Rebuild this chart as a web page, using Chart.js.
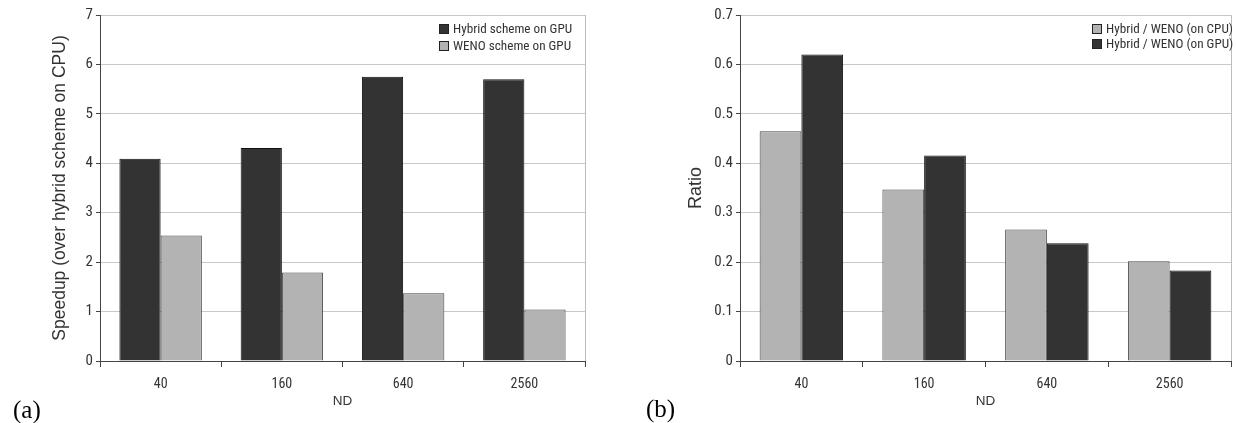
<!DOCTYPE html>
<html><head><meta charset="utf-8">
<script src="https://cdn.jsdelivr.net/npm/chart.js@4.4.1/dist/chart.umd.min.js"></script>
<style>
html,body{margin:0;padding:0;background:#fff;}
body{width:1236px;height:423px;position:relative;overflow:hidden;}
.wrap{position:absolute;top:0;height:423px;width:618px;}
#wa{left:0}
#wb{left:618px}
canvas{display:block}
.panel{position:absolute;font-family:"Liberation Serif","DejaVu Serif",serif;font-size:25px;color:#000;line-height:1;}
.legend{position:absolute;font-family:"Roboto Condensed","Liberation Sans",sans-serif;font-size:13.2px;color:#333;}
.legend .row{display:flex;align-items:center;white-space:nowrap;}
.legend .box{display:inline-block;width:8px;height:8px;border:1px solid #222;margin-right:4px;flex:none;}
</style>
</head>
<body>
<div class="wrap" id="wa"><canvas id="ca" width="618" height="423"></canvas></div>
<div class="wrap" id="wb"><canvas id="cb" width="618" height="423"></canvas></div>
<div class="legend" id="la" style="left:439px;top:20px;"></div>
<div class="legend" id="lb" style="left:1092px;top:21px;"></div>
<div class="panel" style="left:13px;top:397px;">(a)</div>
<div class="panel" style="left:646px;top:396px;">(b)</div>
<script>
// ---- data ----
const categories = ['40', '160', '640', '2560'];
const hybridGpu = [4.09, 4.31, 5.75, 5.70];
const wenoGpu = [2.54, 1.79, 1.37, 1.04];
const ratioCpu = [0.465, 0.347, 0.266, 0.202];
const ratioGpu = [0.620, 0.416, 0.238, 0.183];
const speedupTicks = ['0', '1', '2', '3', '4', '5', '6', '7'];
const ratioTicks = ['0', '0.1', '0.2', '0.3', '0.4', '0.5', '0.6', '0.7'];
const seriesA = ['Hybrid scheme on GPU', 'WENO scheme on GPU'];
const seriesB = ['Hybrid / WENO (on CPU)', 'Hybrid / WENO (on GPU)'];
const titleA = 'Speedup (over hybrid scheme on CPU)';
const titleB = 'Ratio';
const xTitle = 'ND';

const DARK = '#333333', LIGHT = '#b3b3b3';
const NARROW = '"Roboto Condensed", "Liberation Sans", sans-serif';
const SANS = '"Liberation Sans", Arial, sans-serif';

const rightEdge = {
  id: 'rightEdge',
  afterDatasetsDraw(chart) {
    const a = chart.chartArea, ctx = chart.ctx;
    ctx.save();
    ctx.strokeStyle = '#bdbdbd';
    ctx.lineWidth = 1;
    ctx.beginPath();
    ctx.moveTo(Math.round(a.right) + 0.5, a.top);
    ctx.lineTo(Math.round(a.right) + 0.5, a.bottom);
    ctx.stroke();
    ctx.restore();
  }
};

function makeChart(id, datasets, yMax, yStep, tickLabels, yTitle, yTitleSize, yTitlePad, leftW, padRight) {
  return new Chart(document.getElementById(id), {
    type: 'bar',
    data: { labels: categories, datasets },
    plugins: [rightEdge],
    options: {
      responsive: false,
      animation: false,
      devicePixelRatio: 1,
      layout: { padding: { left: 0, right: padRight, top: 15, bottom: 0 } },
      plugins: { legend: { display: false }, tooltip: { enabled: false } },
      datasets: { bar: { categoryPercentage: 0.68, barPercentage: 1.0 } },
      scales: {
        x: {
          afterFit(s) { s.height = 62; },
          grid: { display: true, drawOnChartArea: false, drawTicks: true, tickLength: 6, tickColor: '#444', offset: true },
          border: { display: true, color: '#444', width: 1 },
          ticks: { color: '#333', font: { family: NARROW, size: 14 }, padding: 9 },
          title: { display: true, text: xTitle, color: '#333', font: { family: SANS, size: 13.5 }, padding: { top: 0, bottom: 14 } }
        },
        y: {
          min: 0, max: yMax,
          afterFit(s) { s.width = leftW; },
          grid: { color: '#c8c8c8', lineWidth: 1, tickColor: '#444', tickLength: 4 },
          border: { display: true, color: '#444', width: 1 },
          ticks: { stepSize: yStep, color: '#333', font: { family: NARROW, size: 15 }, padding: 3,
                   callback: (v, i) => tickLabels[i] },
          title: { display: true, text: yTitle, color: '#333', font: { family: SANS, size: yTitleSize }, padding: { top: yTitlePad, bottom: 0 } }
        }
      }
    }
  });
}

makeChart('ca', [
  { label: seriesA[0], data: hybridGpu, backgroundColor: DARK, borderColor: '#111', borderWidth: 1 },
  { label: seriesA[1], data: wenoGpu, backgroundColor: LIGHT, borderColor: '#444', borderWidth: 1 }
], 7, 1, speedupTicks, titleA, 17.5, 50, 100, 33);

makeChart('cb', [
  { label: seriesB[0], data: ratioCpu, backgroundColor: LIGHT, borderColor: '#444', borderWidth: 1 },
  { label: seriesB[1], data: ratioGpu, backgroundColor: DARK, borderColor: '#111', borderWidth: 1 }
], 0.7, 0.1, ratioTicks, titleB, 18, 67, 122, 5);

function buildLegend(id, names, colors, rowH) {
  const el = document.getElementById(id);
  names.forEach((n, i) => {
    const r = document.createElement('div');
    r.className = 'row';
    r.style.height = rowH + 'px';
    const b = document.createElement('span');
    b.className = 'box';
    b.style.background = colors[i];
    const t = document.createElement('span');
    t.textContent = n;
    r.appendChild(b); r.appendChild(t);
    el.appendChild(r);
  });
}
buildLegend('la', seriesA, [DARK, LIGHT], 17);
buildLegend('lb', seriesB, [LIGHT, DARK], 15);
</script>
</body></html>
